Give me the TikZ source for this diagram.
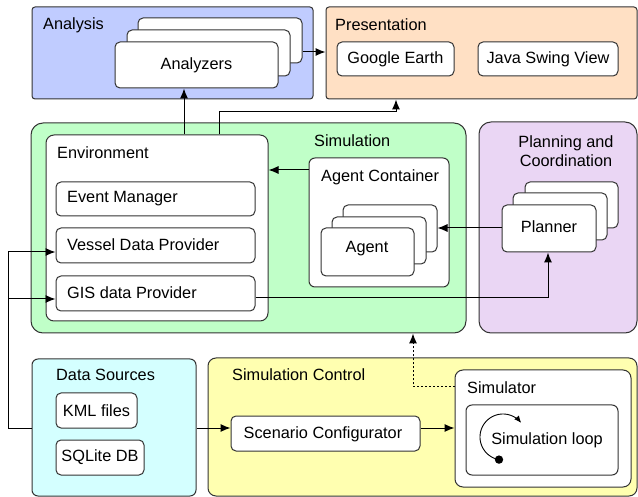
\documentclass[tikz,border=0pt]{standalone}
\usepackage{fontspec}
\setmainfont{Liberation Sans}
\usetikzlibrary{arrows.meta,fit}
\definecolor{edge}{HTML}{333333}
\definecolor{anafill}{RGB}{192,204,255}
\definecolor{presfill}{RGB}{255,224,196}
\definecolor{simfill}{RGB}{192,255,200}
\definecolor{planfill}{RGB}{234,214,244}
\definecolor{dsfill}{RGB}{212,255,255}
\definecolor{ctrlfill}{RGB}{255,255,176}
\begin{document}
\begin{tikzpicture}[x=1pt,y=-1pt,
  font=\fontsize{16.3}{19.5}\selectfont,
  grp/.style={draw=edge, line width=1pt, inner sep=0pt},
  card/.style={draw=edge, fill=white, line width=1pt, inner sep=0pt, rounded corners=5pt},
  lbl/.style={anchor=west, inner sep=0pt},
  ctr/.style={inner sep=0pt},
  arr/.style={draw=black, line width=1pt, -{Latex[length=10pt,width=8pt]}},
  dotline/.style={dash pattern=on 2pt off 2pt}]
\useasboundingbox (0,0) rectangle (638,497);

% ---------- Analysis ----------
\node[grp, fill=anafill, rounded corners=3pt, fit={(32,7) (313,99)}] (ana) {};
\node[lbl] (anaL) at (43,25) {Analysis};
\node[card, fit={(138,18) (302,63)}] (az1) {};
\node[card, fit={(127,30) (290,76)}] (az2) {};
\node[card, fit={(115,42) (278,88)}] (az3) {};
\node[ctr] (az3T) at (az3.center) {Analyzers};

% ---------- Presentation ----------
\node[grp, fill=presfill, rounded corners=3pt, fit={(326,7) (637,99)}] (pres) {};
\node[lbl] (presL) at (335,25) {Presentation};
\node[card, fit={(337,42) (454,76)}] (ge) {};
\node[ctr] (geT) at (ge.center) {Google Earth};
\node[card, fit={(478,42) (618,76)}] (jsv) {};
\node[ctr] (jsvT) at (jsv.center) {Java Swing View};

% ---------- Simulation ----------
\node[grp, fill=simfill, rounded corners=12pt, fit={(31,123) (466,333)}] (simu) {};
\node[lbl] (simuL) at (314,141) {Simulation};
\node[card, rounded corners=8pt, fit={(46,135) (268,321)}] (env) {};
\node[lbl] (envL) at (57,153) {Environment};
\node[card, fit={(56,182) (255,216)}] (evm) {};
\node[lbl] (evmL) at (67,199) {Event Manager};
\node[card, fit={(56,228) (255,263)}] (vdp) {};
\node[lbl] (vdpL) at (67,245) {Vessel Data Provider};
\node[card, fit={(56,276) (255,311)}] (gis) {};
\node[lbl] (gisL) at (67,293) {GIS data Provider};
\node[card, rounded corners=6pt, fit={(309,158) (449,287)}] (ac) {};
\node[lbl] (acL) at (321,177) {Agent Container};
\node[card, fit={(343,205) (437,252)}] (ag1) {};
\node[card, fit={(332,217) (426,264)}] (ag2) {};
\node[card, fit={(321,228) (414,276)}] (ag3) {};
\node[ctr] (agT) at (367,249) {Agent};

% ---------- Planning ----------
\node[grp, fill=planfill, rounded corners=12pt, fit={(479,122) (637,333)}] (plan) {};
\node[align=center, inner sep=0pt] (planL) at (566,151) {Planning and\\Coordination};
\node[card, fit={(525,182) (618,228)}] (pl1) {};
\node[card, fit={(513,193) (607,240)}] (pl2) {};
\node[card, fit={(502,205) (596,252)}] (pl3) {};
\node[ctr] (pl3T) at (549,227) {Planner};

% ---------- Data Sources ----------
\node[grp, fill=dsfill, rounded corners=6pt, fit={(32,359) (196,496)}] (ds) {};
\node[lbl] (dsL) at (56,375) {Data Sources};
\node[card, fit={(56,393) (137,428)}] (kml) {};
\node[ctr] (kmlT) at (kml.center) {KML files};
\node[card, fit={(56,440) (144,475)}] (sql) {};
\node[ctr] (sqlT) at (sql.center) {SQLite DB};

% ---------- Simulation Control ----------
\node[grp, fill=ctrlfill, rounded corners=8pt, fit={(208,358) (637,496)}] (ctrl) {};
\node[lbl] (ctrlL) at (232,375) {Simulation Control};
\node[card, fit={(231,416) (420,451)}] (sc) {};
\node[ctr] (scT) at (323,434) {Scenario Configurator};
\node[card, rounded corners=8pt, fit={(455,370) (631,487)}] (sim) {};
\node[lbl] (simL) at (467,388) {Simulator};
\node[card, rounded corners=6pt, fit={(466,405) (618,475)}] (loop) {};
\node[ctr] (loopT) at (547,440) {Simulation loop};
\draw[line width=0.9pt, -{Latex[length=7pt,width=6pt]}]
  plot[domain=100:322, samples=50, smooth] ({503+23*cos(\x)},{437+23*sin(\x)});
\fill (499,459.6) circle (4.2);

% ---------- Connectors ----------
\draw[arr] (az1.east |- 0,52) -- (pres.west |- 0,52);
\draw[arr] (env.north -| 184,0) -- (az3.south -| 184,0);
\coordinate (up) at (219,112);
\draw[arr] (env.north -| up) -- (up) -| (pres.south -| 396,0);
\draw[arr] (ac.west |- 0,170) -- (env.east |- 0,170);
\draw[arr] (pl3.west |- 0,228) -- (ag1.east |- 0,228);
\draw[arr] (gis.east |- 0,298) -| (pl3.south -| 548,0);
\coordinate (lc) at (8,252);
\coordinate (lg) at (8,299);
\draw[line width=1pt] (ds.west |- 0,428) -| (lc);
\draw[arr] (lc) -- (vdp.west |- lc);
\draw[arr] (lg) -- (gis.west |- lg);
\draw[arr] (ds.east |- 0,428) -- (sc.west |- 0,428);
\draw[arr] (sc.east |- 0,428) -- (sim.west |- 0,428);
\draw[arr, dotline] (sim.west |- 0,387) -| (simu.south -| 413,0);
\end{tikzpicture}
\end{document}
